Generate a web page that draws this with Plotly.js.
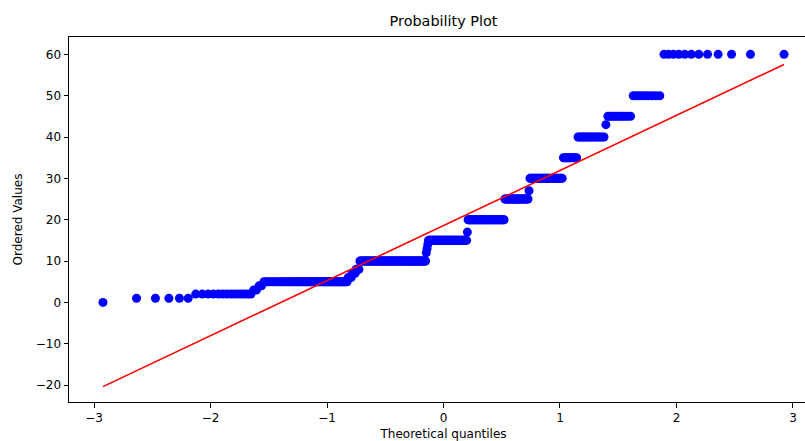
<!DOCTYPE html>
<html>
<head>
<meta charset="utf-8">
<script src="https://cdn.plot.ly/plotly-3.0.1.min.js"></script>
<style>
html,body{margin:0;padding:0;overflow:hidden;background:#fff;}
#chart{width:830px;height:441px;}
</style>
</head>
<body>
<div id="chart"></div>
<script>
const levels = [0, 1, 2, 3, 4, 5, 6, 7, 8, 10, 12, 13, 14, 15, 17, 20, 25, 27, 30, 35, 40, 43, 45, 50, 60];
const counts = [1, 5, 14, 2, 2, 58, 4, 4, 4, 82, 1, 1, 1, 53, 1, 47, 27, 1, 31, 11, 17, 1, 11, 9, 12];
const xTickVals = [-3, -2, -1, 0, 1, 2, 3];
const xTickText = ["\u22123", "\u22122", "\u22121", "0", "1", "2", "3"];
const yTickVals = [-20, -10, 0, 10, 20, 30, 40, 50, 60];
const yTickText = ["\u221220", "\u221210", "0", "10", "20", "30", "40", "50", "60"];

function norminv(p){
  const a=[-3.969683028665376e+01,2.209460984245205e+02,-2.759285104469687e+02,1.383577518672690e+02,-3.066479806614716e+01,2.506628277459239e+00];
  const b=[-5.447609879822406e+01,1.615858368580409e+02,-1.556989798598866e+02,6.680131188771972e+01,-1.328068155288572e+01];
  const c=[-7.784894002430293e-03,-3.223964580411365e-01,-2.400758277161838e+00,-2.549732539343734e+00,4.374664141464968e+00,2.938163982698783e+00];
  const d=[7.784695709041462e-03,3.224671290700398e-01,2.445134137142996e+00,3.754408661907416e+00];
  const pl=0.02425, ph=1-pl; let q,r;
  if(p<pl){q=Math.sqrt(-2*Math.log(p));return (((((c[0]*q+c[1])*q+c[2])*q+c[3])*q+c[4])*q+c[5])/((((d[0]*q+d[1])*q+d[2])*q+d[3])*q+1);}
  if(p<=ph){q=p-0.5;r=q*q;return (((((a[0]*r+a[1])*r+a[2])*r+a[3])*r+a[4])*r+a[5])*q/(((((b[0]*r+b[1])*r+b[2])*r+b[3])*r+b[4])*r+1);}
  q=Math.sqrt(-2*Math.log(1-p));return -(((((c[0]*q+c[1])*q+c[2])*q+c[3])*q+c[4])*q+c[5])/((((d[0]*q+d[1])*q+d[2])*q+d[3])*q+1);
}

// ordered values
const ordered = [];
levels.forEach((v,k)=>{ for(let j=0;j<counts[k];j++) ordered.push(v); });
const n = ordered.length;
// Filliben order-statistic medians -> theoretical quantiles
const osm = [];
for(let i=1;i<=n;i++){
  let m;
  if(i===n) m = Math.pow(0.5, 1/n);
  else if(i===1) m = 1 - Math.pow(0.5, 1/n);
  else m = (i-0.3175)/(n+0.365);
  osm.push(norminv(m));
}
// least-squares fit
const mx = osm.reduce((s,v)=>s+v,0)/n, my = ordered.reduce((s,v)=>s+v,0)/n;
let sxy=0,sxx=0;
for(let i=0;i<n;i++){sxy+=(osm[i]-mx)*(ordered[i]-my);sxx+=(osm[i]-mx)*(osm[i]-mx);}
const slope=sxy/sxx, intercept=my-slope*mx;
const lineX=[osm[0], osm[n-1]];
const lineY=lineX.map(x=>intercept+slope*x);

const font = {family:"DejaVu Sans, sans-serif", size:12, color:"#000"};
const data = [
  {x:osm, y:ordered, type:"scatter", mode:"markers", marker:{color:"#0000ff", size:9, line:{width:0}}, hoverinfo:"skip"},
  {x:lineX, y:lineY, type:"scatter", mode:"lines", line:{color:"#ff0000", width:1.6}, hoverinfo:"skip"}
];
const axisCommon = {showline:true, mirror:true, linecolor:"#000", linewidth:1, ticks:"outside", ticklen:4.5, tickwidth:1, tickcolor:"#000", showgrid:false, zeroline:false, tickfont:font, tickmode:"array"};
const layout = {
  width:830, height:441,
  margin:{l:69, r:12, t:37, b:39},
  paper_bgcolor:"#fff", plot_bgcolor:"#fff",
  showlegend:false,
  font:font,
  title:{text:"Probability Plot", font:{family:"DejaVu Sans, sans-serif", size:14.4, color:"#000"}, x:0.5, xref:"paper", xanchor:"center", y:1-21/441, yref:"container", yanchor:"middle"},
  xaxis:Object.assign({}, axisCommon, {range:[-3.215,3.215], tickvals:xTickVals, ticktext:xTickText, title:{text:"Theoretical quantiles", font:font, standoff:8}}),
  yaxis:Object.assign({}, axisCommon, {range:[-24.1,64.2], tickvals:yTickVals, ticktext:yTickText, title:{text:"Ordered Values", font:font, standoff:10}})
};
Plotly.newPlot("chart", data, layout, {staticPlot:true, displayModeBar:false});
</script>
</body>
</html>
